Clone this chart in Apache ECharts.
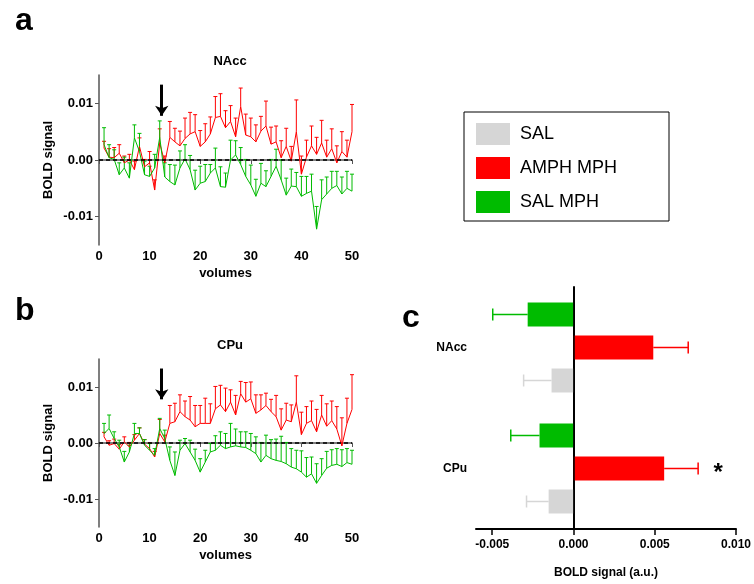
<!DOCTYPE html>
<html>
<head>
<meta charset="utf-8">
<script src="https://cdn.jsdelivr.net/npm/echarts@6/dist/echarts.min.js"></script>
<style>
html, body { margin: 0; padding: 0; background: #fff; }
#grafico { width: 754px; height: 584px; }
</style>
</head>
<body>
<div id="grafico"></div>
<script>
// Volúmenes (eje x de los paneles a y b)
const volumenes = [1, 2, 3, 4, 5, 6, 7, 8, 9, 10, 11, 12, 13, 14, 15, 16, 17, 18, 19, 20,
  21, 22, 23, 24, 25, 26, 27, 28, 29, 30, 31, 32, 33, 34, 35, 36, 37, 38, 39, 40,
  41, 42, 43, 44, 45, 46, 47, 48, 49, 50];

// Panel a: NAcc
const naccAmph = [0.0021, 0.0005, 0.0004, 0.0012, -0.0005, 0.0000, -0.0017, 0.0024, -0.0012, -0.0005,
  -0.0053, 0.0030, -0.0005, 0.0040, 0.0032, 0.0025, 0.0038, 0.0046, 0.0050, 0.0024,
  0.0032, 0.0046, 0.0075, 0.0077, 0.0057, 0.0068, 0.0041, 0.0094, 0.0044, 0.0041,
  0.0032, 0.0051, 0.0060, 0.0028, 0.0032, 0.0004, 0.0024, -0.0002, 0.0050, -0.0025,
  0.0005, 0.0025, 0.0010, 0.0030, 0.0005, 0.0020, -0.0005, 0.0015, 0.0005, 0.0050];
const naccAmphErr = [0.0012, 0.0015, 0.0018, 0.0015, 0.0012, 0.0010, 0.0015, 0.0015, 0.0013, 0.0020,
  0.0018, 0.0025, 0.0012, 0.0028, 0.0024, 0.0026, 0.0036, 0.0038, 0.0030, 0.0028,
  0.0032, 0.0030, 0.0037, 0.0040, 0.0030, 0.0028, 0.0033, 0.0033, 0.0037, 0.0033,
  0.0030, 0.0026, 0.0044, 0.0030, 0.0028, 0.0030, 0.0032, 0.0026, 0.0056, 0.0032,
  0.0030, 0.0035, 0.0030, 0.0040, 0.0030, 0.0035, 0.0030, 0.0035, 0.0030, 0.0048];
const naccSal = [0.0027, 0.0004, 0.0001, -0.0026, -0.0014, -0.0032, 0.0039, 0.0015, -0.0026, -0.0029,
  -0.0014, 0.0040, -0.0030, -0.0038, -0.0044, -0.0014, 0.0002, -0.0017, -0.0053, -0.0041,
  -0.0038, -0.0023, -0.0014, -0.0047, -0.0048, 0.0000, 0.0009, -0.0008, -0.0029, -0.0044,
  -0.0064, -0.0041, -0.0047, -0.0029, -0.0011, -0.0035, -0.0062, -0.0046, -0.0047, -0.0064,
  -0.0059, -0.0055, -0.0122, -0.0070, -0.0060, -0.0050, -0.0045, -0.0060, -0.0050, -0.0055];
const naccSalErr = [0.0030, 0.0023, 0.0017, 0.0021, 0.0019, 0.0027, 0.0023, 0.0032, 0.0024, 0.0018,
  0.0024, 0.0029, 0.0025, 0.0030, 0.0035, 0.0030, 0.0025, 0.0025, 0.0035, 0.0030,
  0.0030, 0.0015, 0.0035, 0.0035, 0.0025, 0.0035, 0.0025, 0.0030, 0.0030, 0.0035,
  0.0030, 0.0035, 0.0028, 0.0030, 0.0030, 0.0035, 0.0030, 0.0030, 0.0025, 0.0035,
  0.0030, 0.0030, 0.0040, 0.0035, 0.0030, 0.0030, 0.0025, 0.0030, 0.0030, 0.0030];

// Panel b: CPu
const cpuAmph = [0.0011, -0.0004, -0.0001, -0.0011, 0.0002, -0.0007, 0.0005, 0.0017, -0.0002, -0.0010,
  -0.0025, 0.0017, 0.0002, 0.0035, 0.0038, 0.0056, 0.0047, 0.0041, 0.0029, 0.0035,
  0.0035, 0.0035, 0.0061, 0.0068, 0.0056, 0.0073, 0.0050, 0.0088, 0.0073, 0.0079,
  0.0053, 0.0059, 0.0067, 0.0056, 0.0047, 0.0023, 0.0041, 0.0038, 0.0073, 0.0015,
  0.0035, 0.0040, 0.0020, 0.0050, 0.0030, 0.0040, 0.0025, -0.0005, 0.0035, 0.0060];
const cpuAmphErr = [0.0008, 0.0008, 0.0008, 0.0008, 0.0009, 0.0008, 0.0010, 0.0010, 0.0008, 0.0010,
  0.0010, 0.0025, 0.0012, 0.0032, 0.0033, 0.0030, 0.0028, 0.0042, 0.0038, 0.0032,
  0.0045, 0.0035, 0.0040, 0.0035, 0.0042, 0.0022, 0.0035, 0.0022, 0.0035, 0.0030,
  0.0033, 0.0027, 0.0022, 0.0022, 0.0038, 0.0038, 0.0030, 0.0030, 0.0047, 0.0040,
  0.0030, 0.0035, 0.0040, 0.0035, 0.0040, 0.0035, 0.0040, 0.0050, 0.0045, 0.0062];
const cpuSal = [0.0017, 0.0026, 0.0008, -0.0007, -0.0034, -0.0016, 0.0017, 0.0017, -0.0004, -0.0013,
  -0.0022, 0.0026, 0.0008, -0.0031, -0.0058, -0.0013, -0.0001, -0.0016, -0.0031, -0.0052,
  -0.0034, -0.0016, -0.0013, -0.0004, -0.0010, -0.0007, -0.0005, -0.0007, -0.0008, -0.0013,
  -0.0019, -0.0034, -0.0022, -0.0028, -0.0031, -0.0033, -0.0037, -0.0043, -0.0046, -0.0052,
  -0.0061, -0.0055, -0.0072, -0.0058, -0.0045, -0.0040, -0.0038, -0.0042, -0.0035, -0.0038];
const cpuSalErr = [0.0018, 0.0024, 0.0012, 0.0012, 0.0019, 0.0012, 0.0018, 0.0010, 0.0010, 0.0012,
  0.0012, 0.0018, 0.0015, 0.0024, 0.0042, 0.0018, 0.0009, 0.0021, 0.0020, 0.0024,
  0.0021, 0.0015, 0.0026, 0.0024, 0.0027, 0.0042, 0.0030, 0.0027, 0.0028, 0.0030,
  0.0030, 0.0035, 0.0036, 0.0034, 0.0038, 0.0045, 0.0038, 0.0033, 0.0033, 0.0038,
  0.0035, 0.0030, 0.0035, 0.0030, 0.0030, 0.0028, 0.0028, 0.0030, 0.0025, 0.0025];

// Panel c: medias por región (de abajo hacia arriba) y su error
const regiones = ['CPu', 'NAcc'];
const salMedia = [-0.00153, -0.00135];
const salErr = [0.00136, 0.00172];
const amphMedia = [0.00558, 0.00491];
const amphErr = [0.00209, 0.00215];
const salMphMedia = [-0.00209, -0.00282];
const salMphErr = [0.00177, 0.00215];

const ROJO = '#ff0000';
const VERDE = '#00bb00';
const GRIS = '#d6d6d6';
const FUENTE = 'Liberation Sans, Arial, sans-serif';

const grafico = echarts.init(document.getElementById('grafico'));

function ejeX(idx) {
  return {
    type: 'value', gridIndex: idx, min: 0, max: 50, interval: 10,
    name: 'volumes', nameLocation: 'middle', nameGap: 22,
    nameTextStyle: { fontFamily: FUENTE, fontWeight: 'bold', fontSize: 13, color: '#000' },
    axisLine: { lineStyle: { color: '#555', width: 1.5 } },
    axisTick: { length: 4, lineStyle: { color: '#555' } },
    axisLabel: { fontFamily: FUENTE, fontWeight: 'bold', fontSize: 13, color: '#000', margin: 5 },
    splitLine: { show: false }
  };
}

function ejeY(idx) {
  return {
    type: 'value', gridIndex: idx, min: -0.015, max: 0.015,
    name: 'BOLD signal', nameLocation: 'middle', nameGap: 44, nameRotate: 90,
    nameTextStyle: { fontFamily: FUENTE, fontWeight: 'bold', fontSize: 13, color: '#000' },
    axisLine: { show: true, lineStyle: { color: '#555', width: 1.5 } },
    axisTick: { show: true, length: 4, customValues: [-0.01, 0, 0.01], lineStyle: { color: '#555' } },
    axisLabel: {
      fontFamily: FUENTE, fontWeight: 'bold', fontSize: 13, color: '#000', margin: 6,
      customValues: [-0.01, 0, 0.01],
      formatter: v => v.toFixed(2)
    },
    splitLine: { show: false }
  };
}

function serieLinea(nombre, idx, medias, color, extra) {
  return Object.assign({
    type: 'line', name: nombre, xAxisIndex: idx, yAxisIndex: idx,
    data: volumenes.map((v, i) => [v, medias[i]]),
    showSymbol: false, symbol: 'none', color: color,
    lineStyle: { color: color, width: 1 }, z: 3
  }, extra || {});
}

// Barras de error hacia arriba (solo el lado positivo, como en la figura)
function serieErrores(idx, medias, errores, color) {
  return {
    type: 'custom', xAxisIndex: idx, yAxisIndex: idx, silent: true, z: 2,
    data: volumenes.map((v, i) => [v, medias[i], medias[i] + errores[i]]),
    encode: { x: 0, y: [1, 2] },
    renderItem: (params, api) => {
      const base = api.coord([api.value(0), api.value(1)]);
      const tope = api.coord([api.value(0), api.value(2)]);
      return {
        type: 'group', children: [
          { type: 'line', shape: { x1: base[0], y1: base[1], x2: tope[0], y2: tope[1] }, style: { stroke: color, lineWidth: 1 } },
          { type: 'line', shape: { x1: tope[0] - 2, y1: tope[1], x2: tope[0] + 2, y2: tope[1] }, style: { stroke: color, lineWidth: 1 } }
        ]
      };
    }
  };
}

const lineaCero = {
  silent: true, symbol: 'none', label: { show: false },
  lineStyle: { color: '#000', type: [4, 3], width: 1.5 },
  data: [{ yAxis: 0 }]
};
const flecha = {
  silent: true, symbol: ['none', 'arrow'], symbolSize: 10, label: { show: false },
  lineStyle: { color: '#000', type: 'solid', width: 3 },
  data: [[{ coord: [12.4, 0.0133] }, { coord: [12.4, 0.0078] }]]
};

// Barras horizontales del panel c con su barra de error hacia afuera
function serieBarra(nombre, medias, color) {
  return {
    type: 'bar', name: nombre, xAxisIndex: 2, yAxisIndex: 2,
    data: medias, barWidth: 24, barGap: '37.5%', color: color,
    itemStyle: { color: color }
  };
}
function errorBarra(medias, errores, color, desplazamiento) {
  return {
    type: 'custom', xAxisIndex: 2, yAxisIndex: 2, silent: true, z: 1,
    data: medias.map((m, i) => [m, m + Math.sign(m) * errores[i], i]),
    encode: { x: [0, 1], y: 2 },
    renderItem: (params, api) => {
      const a = api.coord([api.value(0), api.value(2)]);
      const b = api.coord([api.value(1), api.value(2)]);
      const y = a[1] + desplazamiento;
      return {
        type: 'group', children: [
          { type: 'line', shape: { x1: a[0], y1: y, x2: b[0], y2: y }, style: { stroke: color, lineWidth: 1.5 } },
          { type: 'line', shape: { x1: b[0], y1: y - 6, x2: b[0], y2: y + 6 }, style: { stroke: color, lineWidth: 1.5 } }
        ]
      };
    }
  };
}

const opciones = {
  animation: false,
  backgroundColor: '#fff',
  textStyle: { fontFamily: FUENTE },
  title: [
    { text: 'a', left: 10, top: 0, textStyle: { fontFamily: FUENTE, fontSize: 32, fontWeight: 'bold', color: '#000' } },
    { text: 'NAcc', left: 225, top: 50, textAlign: 'center', textStyle: { fontFamily: FUENTE, fontSize: 13, fontWeight: 'bold', color: '#000' } },
    { text: 'b', left: 10, top: 290, textStyle: { fontFamily: FUENTE, fontSize: 32, fontWeight: 'bold', color: '#000' } },
    { text: 'CPu', left: 225, top: 334, textAlign: 'center', textStyle: { fontFamily: FUENTE, fontSize: 13, fontWeight: 'bold', color: '#000' } },
    { text: 'c', left: 397, top: 297, textStyle: { fontFamily: FUENTE, fontSize: 32, fontWeight: 'bold', color: '#000' } }
  ],
  legend: {
    data: ['SAL', 'AMPH MPH', 'SAL MPH'],
    orient: 'vertical', left: 464, top: 112,
    icon: 'rect', itemWidth: 34, itemHeight: 22, itemGap: 12,
    padding: [11, 52, 8, 12],
    borderColor: '#000', borderWidth: 1,
    selectedMode: false,
    textStyle: { fontFamily: FUENTE, fontSize: 18, color: '#000', padding: [0, 0, 0, 5] }
  },
  grid: [
    { left: 99, width: 253, top: 75, height: 170 },
    { left: 99, width: 253, top: 359, height: 168 },
    { left: 476, width: 260, top: 287, height: 242 }
  ],
  xAxis: [
    ejeX(0),
    ejeX(1),
    {
      type: 'value', gridIndex: 2, min: -0.006, max: 0.010,
      name: 'BOLD signal (a.u.)', nameLocation: 'middle', nameGap: 38,
      nameTextStyle: { fontFamily: FUENTE, fontWeight: 'bold', fontSize: 12, color: '#000' },
      axisLine: { show: true, lineStyle: { color: '#000', width: 2 } },
      axisTick: { show: true, length: 6, customValues: [-0.005, 0, 0.005, 0.01], lineStyle: { color: '#000', width: 1.5 } },
      axisLabel: {
        fontFamily: FUENTE, fontWeight: 'bold', fontSize: 12, color: '#000', margin: 10,
        customValues: [-0.005, 0, 0.005, 0.01],
        formatter: v => v.toFixed(3)
      },
      splitLine: { show: false }
    }
  ],
  yAxis: [
    ejeY(0),
    ejeY(1),
    {
      type: 'category', gridIndex: 2, data: regiones,
      axisLine: { lineStyle: { color: '#000', width: 2 } },
      axisTick: { alignWithLabel: true, length: 6, lineStyle: { color: '#000', width: 1.5 } },
      axisLabel: { fontFamily: FUENTE, fontWeight: 'bold', fontSize: 12, color: '#000', margin: 9 }
    }
  ],
  series: [
    serieErrores(0, naccAmph, naccAmphErr, ROJO),
    serieErrores(0, naccSal, naccSalErr, VERDE),
    serieLinea('AMPH MPH', 0, naccAmph, ROJO, { markLine: lineaCero }),
    serieLinea('SAL MPH', 0, naccSal, VERDE, { markLine: flecha }),
    serieErrores(1, cpuAmph, cpuAmphErr, ROJO),
    serieErrores(1, cpuSal, cpuSalErr, VERDE),
    serieLinea('AMPH MPH', 1, cpuAmph, ROJO, { markLine: lineaCero }),
    serieLinea('SAL MPH', 1, cpuSal, VERDE, { markLine: flecha }),
    Object.assign(serieBarra('SAL MPH', salMphMedia, VERDE), {
      markLine: {
        silent: true, symbol: 'none', label: { show: false },
        lineStyle: { color: '#000', type: 'solid', width: 1.5 },
        data: [{ xAxis: 0 }]
      }
    }),
    Object.assign(serieBarra('AMPH MPH', amphMedia, ROJO), {
      markPoint: {
        silent: true, symbol: 'rect', symbolSize: 1,
        itemStyle: { color: 'rgba(0,0,0,0)' },
        label: { show: true, position: 'inside', offset: [0, 5], formatter: '*', fontFamily: FUENTE, fontSize: 24, fontWeight: 'bold', color: '#000' },
        data: [{ coord: [0.0089, 'CPu'] }]
      }
    }),
    serieBarra('SAL', salMedia, GRIS),
    errorBarra(salMphMedia, salMphErr, VERDE, -33),
    errorBarra(amphMedia, amphErr, ROJO, 0),
    errorBarra(salMedia, salErr, GRIS, 33)
  ]
};

grafico.setOption(opciones);
</script>
</body>
</html>
